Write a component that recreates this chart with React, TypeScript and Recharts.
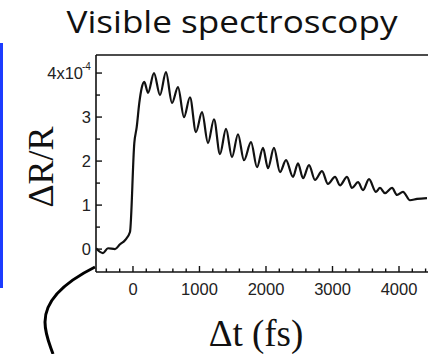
import React from 'react';
import { LineChart, Line, XAxis, YAxis, ReferenceLine, Label } from 'recharts';

// pump-probe delay (fs) and ΔR/R (units of 1e-4)
const delayFs = [
  -556, -451, -376, -271, -195, -120, -45, 20, 56, 95, 131, 170, 226, 316, 406, 496, 587, 677,
  767, 857, 947, 1038, 1128, 1218, 1308, 1399, 1489, 1579, 1669, 1775, 1865, 1955, 2030, 2120,
  2211, 2301, 2406, 2481, 2557, 2647, 2737, 2842, 2932, 3038, 3113, 3218, 3293, 3384, 3459,
  3549, 3654, 3714, 3790, 3895, 3970, 4060, 4165, 4271, 4421,
];
const deltaR = [
  0.02, -0.09, 0.02, 0.0, 0.11, 0.2, 0.39, 2.41, 2.77, 3.32, 3.66, 3.8, 3.55, 4.0, 3.5, 4.02, 3.32,
  3.68, 3.0, 3.45, 2.66, 3.11, 2.41, 2.95, 2.16, 2.73, 2.09, 2.61, 2.02, 2.43, 1.86, 2.3, 1.84,
  2.3, 1.75, 2.02, 1.64, 1.95, 1.61, 1.91, 1.57, 1.77, 1.48, 1.64, 1.45, 1.64, 1.39, 1.52, 1.34,
  1.59, 1.3, 1.39, 1.27, 1.39, 1.23, 1.3, 1.11, 1.14, 1.16,
];

const xTicks = [
  -400, -200, 0, 200, 400, 600, 800, 1000, 1200, 1400, 1600, 1800, 2000, 2200, 2400, 2600,
  2800, 3000, 3200, 3400, 3600, 3800, 4000, 4200, 4400,
];
const xMajor = [0, 1000, 2000, 3000, 4000];
const yTicks = [0, 0.5, 1, 1.5, 2, 2.5, 3, 3.5, 4];
const yMajor = [0, 1, 2, 3, 4];

const chartData = delayFs.map((t, i) => ({ t, v: deltaR[i] }));

const tickFont = '"Liberation Sans", Arial, sans-serif';
const serif = '"Liberation Serif", "Times New Roman", serif';

function XTick(props: any) {
  const { x, y, payload } = props;
  const major = xMajor.includes(payload.value);
  return (
    <g>
      <line x1={x} x2={x} y1={y} y2={y - (major ? 6 : 3.5)} stroke="#111" strokeWidth={1.4} />
      {major && (
        <text x={x} y={y + 23} textAnchor="middle" fontSize={16.5} fill="#222" fontFamily={tickFont}>
          {payload.value}
        </text>
      )}
    </g>
  );
}

function YTick(props: any) {
  const { x, y, payload } = props;
  const v = payload.value;
  const major = yMajor.includes(v);
  return (
    <g>
      <line x1={x} x2={x + (major ? 6 : 4)} y1={y} y2={y} stroke="#111" strokeWidth={1.4} />
      {major && (
        <text x={v === 4 ? x - 13 : x - 5} y={y + 6} textAnchor="end" fontSize={16.5} fill="#222" fontFamily={tickFont}>
          {v === 4 ? '4x10' : v}
        </text>
      )}
      {v === 4 && (
        <text x={x - 14} y={y - 3} textAnchor="start" fontSize={10} fill="#222" fontFamily={tickFont}>
          -4
        </text>
      )}
    </g>
  );
}

export default function App() {
  return (
    <div style={{ position: 'absolute', left: 0, top: 0, width: 428, height: 354, background: '#fff' }}>
      <svg width={428} height={354} style={{ position: 'absolute', left: 0, top: 0 }}>
        <text
          x={232}
          y={33}
          textAnchor="middle"
          fontSize={31}
          fill="#111"
          fontFamily='"Open Sans", Lato, sans-serif'
          textLength={331}
          lengthAdjust="spacingAndGlyphs"
        >
          Visible spectroscopy
        </text>
        <line x1={1.5} x2={1.5} y1={43} y2={288} stroke="#1c3cff" strokeWidth={3} />
        <path d="M95,267 C65,282 45,300 45,322 C45,335 50,345 53,354" fill="none" stroke="#000" strokeWidth={3} />
      </svg>
      <div style={{ position: 'absolute', left: 0, top: 0 }}>
        <LineChart width={428} height={354} data={chartData} margin={{ top: 55, right: 0, bottom: 0, left: 0 }}>
          <XAxis
            dataKey="t"
            type="number"
            domain={[-556, 4436]}
            ticks={xTicks}
            interval={0}
            height={82}
            tickSize={0}
            tickMargin={0}
            tickLine={false}
            axisLine={{ stroke: '#111', strokeWidth: 1.6 }}
            tick={<XTick />}
            allowDataOverflow
          >
            <Label
              content={() => (
                <text x={256} y={346} textAnchor="middle" fontSize={37} fill="#111" fontFamily={serif}>
                  Δt (fs)
                </text>
              )}
            />
          </XAxis>
          <YAxis
            type="number"
            domain={[-0.52, 4.41]}
            ticks={yTicks}
            interval={0}
            width={96}
            tickSize={0}
            tickMargin={0}
            tickLine={false}
            axisLine={{ stroke: '#111', strokeWidth: 1.6 }}
            tick={<YTick />}
            allowDataOverflow
          >
            <Label
              content={() => (
                <text
                  transform="translate(53,167) rotate(-90)"
                  textAnchor="middle"
                  fontSize={36}
                  fill="#111"
                  fontFamily={serif}
                >
                  ΔR/R
                </text>
              )}
            />
          </YAxis>
          <ReferenceLine y={4.41} stroke="#111" strokeWidth={1.6} />
          <Line
            type="monotone"
            dataKey="v"
            stroke="#111"
            strokeWidth={2.2}
            dot={false}
            isAnimationActive={false}
          />
        </LineChart>
      </div>
    </div>
  );
}
